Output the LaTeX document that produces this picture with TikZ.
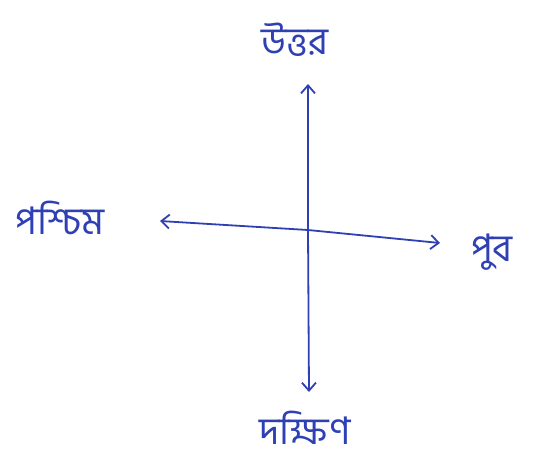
\documentclass[tikz,border=0pt]{standalone}
\usepackage{fontspec}
\newfontfamily\bnfont[Script=Bengali]{Hind Siliguri}
\usetikzlibrary{arrows.meta}
\definecolor{ink}{HTML}{2F40B4}
\tikzset{
  lbl/.style={text=ink, font=\bnfont\fontsize{38}{44}\selectfont, inner sep=0pt},
  arr/.style={draw=ink, line width=1.8pt, -{Straight Barb[length=8pt,width=14pt,line width=1.8pt]}}
}
\begin{document}
\begin{tikzpicture}[x=1pt,y=-1pt]
\useasboundingbox (0,0) rectangle (537,464);
\coordinate (c) at (308,230);
\coordinate (n) at (308,84);
\coordinate (s) at (309,392);
\coordinate (w) at (160,221);
\coordinate (e) at (440,243);
\node[lbl] (north) at (295,40) {উত্তর};
\node[lbl] (west) at (60,218) {পশ্চিম};
\node[lbl] (east) at (492,252) {পুব};
\node[lbl] (south) at (305,428) {দক্ষিণ};
\draw[arr] (c) -- (n);
\draw[arr] (c) -- (s);
\draw[arr] (c) -- (w);
\draw[arr] (c) -- (e);
\end{tikzpicture}
\end{document}
